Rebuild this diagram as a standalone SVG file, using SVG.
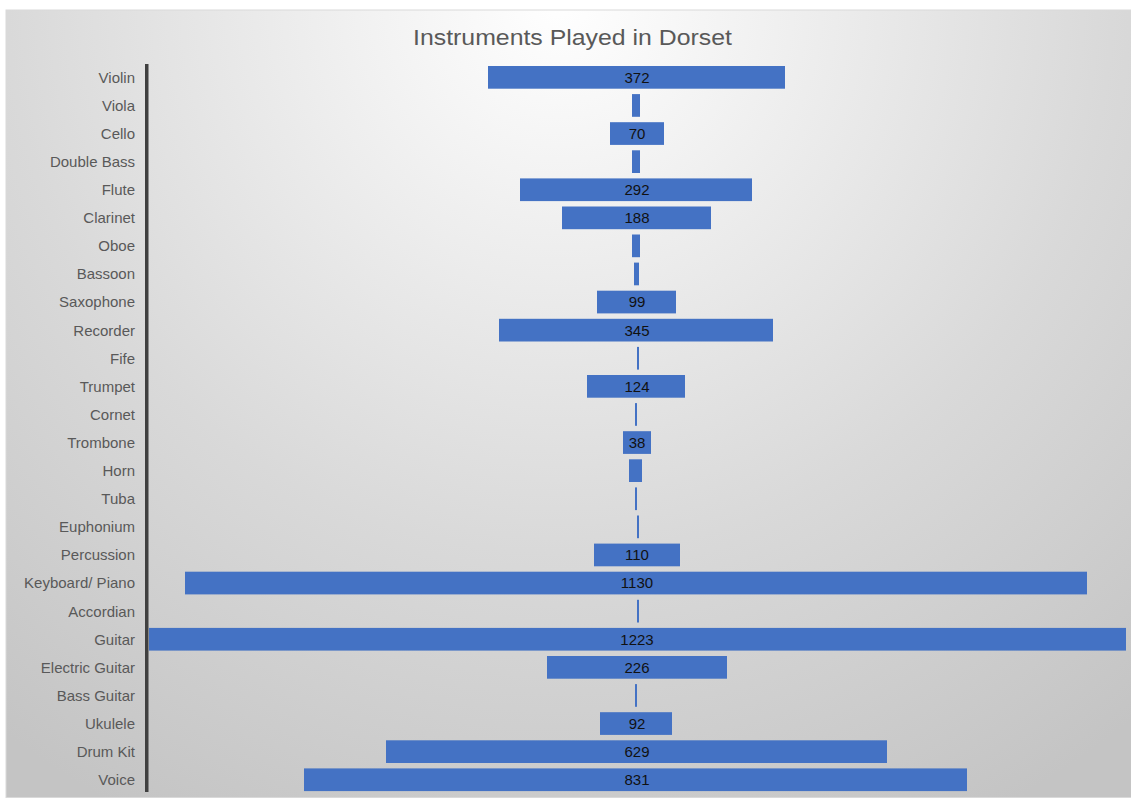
<svg xmlns="http://www.w3.org/2000/svg" width="1131" height="798" viewBox="0 0 1131 798">
  <defs>
    <radialGradient id="bg" gradientUnits="userSpaceOnUse" cx="560" cy="0" r="920">
      <stop offset="0" stop-color="#ffffff"/>
      <stop offset="0.6" stop-color="#d9d9d9"/>
      <stop offset="1" stop-color="#c4c4c4"/>
    </radialGradient>
  </defs>
  <style>
    .lbl { font-family: "Liberation Sans", Arial, sans-serif; font-size: 15px; fill: #595959; text-anchor: end; }
    .val { font-family: "Liberation Sans", Arial, sans-serif; font-size: 15px; fill: #111111; text-anchor: middle; }
    .bar { fill: #4472c4; }
    .title { font-family: "Liberation Sans", Arial, sans-serif; font-size: 22px; fill: #595959; text-anchor: middle; }
  </style>
  <rect x="0" y="0" width="1131" height="798" fill="#ffffff"/>
  <rect x="6" y="10" width="1130" height="787.5" fill="url(#bg)" stroke="#d9d9d9" stroke-width="1"/>
  <text class="title" x="572.5" y="45" textLength="319" lengthAdjust="spacingAndGlyphs">Instruments Played in Dorset</text>

  <g id="axis">
    <rect x="145" y="64" width="3.5" height="728" fill="#404040"/>
  </g>

  <g id="labels">
    <text class="lbl" x="135" y="82.7">Violin</text>
    <text class="lbl" x="135" y="110.8">Viola</text>
    <text class="lbl" x="135" y="138.9">Cello</text>
    <text class="lbl" x="135" y="167.0">Double Bass</text>
    <text class="lbl" x="135" y="195.1">Flute</text>
    <text class="lbl" x="135" y="223.2">Clarinet</text>
    <text class="lbl" x="135" y="251.2">Oboe</text>
    <text class="lbl" x="135" y="279.3">Bassoon</text>
    <text class="lbl" x="135" y="307.4">Saxophone</text>
    <text class="lbl" x="135" y="335.5">Recorder</text>
    <text class="lbl" x="135" y="363.6">Fife</text>
    <text class="lbl" x="135" y="391.7">Trumpet</text>
    <text class="lbl" x="135" y="419.8">Cornet</text>
    <text class="lbl" x="135" y="447.9">Trombone</text>
    <text class="lbl" x="135" y="476.0">Horn</text>
    <text class="lbl" x="135" y="504.1">Tuba</text>
    <text class="lbl" x="135" y="532.2">Euphonium</text>
    <text class="lbl" x="135" y="560.3">Percussion</text>
    <text class="lbl" x="135" y="588.4">Keyboard/ Piano</text>
    <text class="lbl" x="135" y="616.5">Accordian</text>
    <text class="lbl" x="135" y="644.6">Guitar</text>
    <text class="lbl" x="135" y="672.7">Electric Guitar</text>
    <text class="lbl" x="135" y="700.8">Bass Guitar</text>
    <text class="lbl" x="135" y="728.9">Ukulele</text>
    <text class="lbl" x="135" y="757.0">Drum Kit</text>
    <text class="lbl" x="135" y="785.1">Voice</text>
  </g>

  <g id="bars">
    <g id="violin"><rect class="bar" x="488" y="66.0" width="297" height="22.7"/><text class="val" x="637" y="82.7">372</text></g>
    <g id="viola"><rect class="bar" x="632" y="94.1" width="8" height="22.7"/></g>
    <g id="cello"><rect class="bar" x="610" y="122.2" width="54" height="22.7"/><text class="val" x="637" y="138.9">70</text></g>
    <g id="double-bass"><rect class="bar" x="632" y="150.3" width="8" height="22.7"/></g>
    <g id="flute"><rect class="bar" x="520" y="178.4" width="232" height="22.7"/><text class="val" x="637" y="195.1">292</text></g>
    <g id="clarinet"><rect class="bar" x="562" y="206.5" width="149" height="22.7"/><text class="val" x="637" y="223.2">188</text></g>
    <g id="oboe"><rect class="bar" x="632" y="234.5" width="8" height="22.7"/></g>
    <g id="bassoon"><rect class="bar" x="634" y="262.6" width="5" height="22.7"/></g>
    <g id="saxophone"><rect class="bar" x="597" y="290.7" width="79" height="22.7"/><text class="val" x="637" y="307.4">99</text></g>
    <g id="recorder"><rect class="bar" x="499" y="318.8" width="274" height="22.7"/><text class="val" x="637" y="335.5">345</text></g>
    <g id="fife"><rect class="bar" x="637" y="346.9" width="2" height="22.7"/></g>
    <g id="trumpet"><rect class="bar" x="587" y="375.0" width="98" height="22.7"/><text class="val" x="637" y="391.7">124</text></g>
    <g id="cornet"><rect class="bar" x="635" y="403.1" width="2" height="22.7"/></g>
    <g id="trombone"><rect class="bar" x="623" y="431.2" width="28" height="22.7"/><text class="val" x="637" y="447.9">38</text></g>
    <g id="horn"><rect class="bar" x="629" y="459.3" width="13" height="22.7"/></g>
    <g id="tuba"><rect class="bar" x="635" y="487.4" width="2" height="22.7"/></g>
    <g id="euphonium"><rect class="bar" x="637" y="515.5" width="2" height="22.7"/></g>
    <g id="percussion"><rect class="bar" x="594" y="543.6" width="86" height="22.7"/><text class="val" x="637" y="560.3">110</text></g>
    <g id="keyboard"><rect class="bar" x="185" y="571.7" width="902" height="22.7"/><text class="val" x="637" y="588.4">1130</text></g>
    <g id="accordian"><rect class="bar" x="637" y="599.8" width="2" height="22.7"/></g>
    <g id="guitar"><rect class="bar" x="149" y="627.9" width="977" height="22.7"/><text class="val" x="637" y="644.6">1223</text></g>
    <g id="electric-guitar"><rect class="bar" x="547" y="656.0" width="180" height="22.7"/><text class="val" x="637" y="672.7">226</text></g>
    <g id="bass-guitar"><rect class="bar" x="635" y="684.1" width="2" height="22.7"/></g>
    <g id="ukulele"><rect class="bar" x="600" y="712.2" width="72" height="22.7"/><text class="val" x="637" y="728.9">92</text></g>
    <g id="drum-kit"><rect class="bar" x="386" y="740.3" width="501" height="22.7"/><text class="val" x="637" y="757.0">629</text></g>
    <g id="voice"><rect class="bar" x="304" y="768.4" width="663" height="22.7"/><text class="val" x="637" y="785.1">831</text></g>
  </g>
</svg>
